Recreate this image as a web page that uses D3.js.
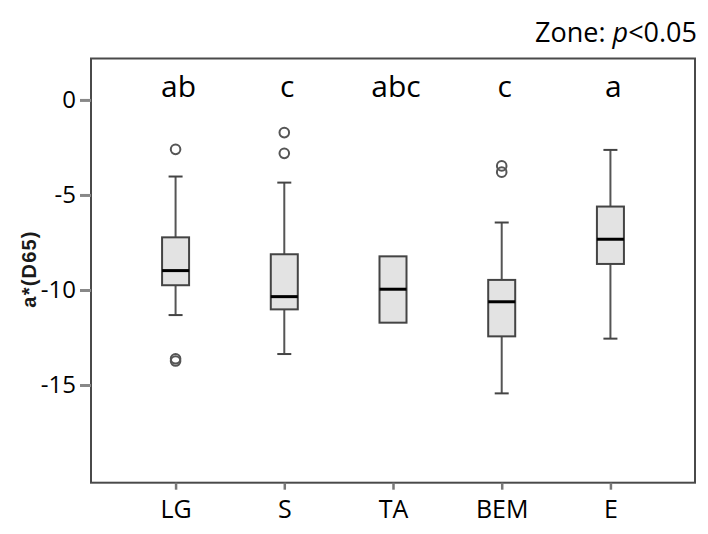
<!DOCTYPE html>
<html>
<head>
<meta charset="utf-8">
<script src="https://cdn.jsdelivr.net/npm/d3@7/dist/d3.min.js"></script>
<style>
  html, body { margin: 0; padding: 0; background: #fff; }
  svg { display: block; }
</style>
</head>
<body>
<div id="chart"></div>
<script>
// ---- data ----
const categories = ["LG", "S", "TA", "BEM", "E"];
const letters = ["ab", "c", "abc", "c", "a"];
const whiskerLow  = [-11.32, -13.37, -11.72, -15.44, -12.56];
const q1          = [-9.75, -11.02, -11.72, -12.44, -8.63];
const medians     = [-8.98, -10.35, -9.96, -10.62, -7.33];
const q3          = [-7.23, -8.12, -8.23, -9.47, -5.61];
const whiskerHigh = [-4.03, -4.35, -8.23, -6.45, -2.63];
const outliers    = [[-2.6, -13.62, -13.74], [-1.72, -2.81], [], [-3.47, -3.8], []];
const yTicks = [0, -5, -10, -15];
const yDomain = [-20.14, 2.18];
const yTitle = "a*(D65)";

// ---- layout ----
const W = 708, H = 534;
const mLeft = 91, mRight = 695, mTop = 58.5, mBottom = 482.7;

const svg = d3.select("#chart").append("svg")
  .attr("width", W).attr("height", H);

const x = d3.scalePoint().domain(categories).range([mLeft, mRight]).padding(0.778);
const y = d3.scaleLinear().domain(yDomain).range([mBottom, mTop]);

const boxW = 27, capW = 14;
const font = "'Open Sans', 'Noto Sans', sans-serif";

// frame
svg.append("rect")
  .attr("x", mLeft).attr("y", mTop)
  .attr("width", mRight - mLeft).attr("height", mBottom - mTop)
  .attr("fill", "none").attr("stroke", "#4a4a4a").attr("stroke-width", 2);

// y axis
const yAxis = d3.axisLeft(y).tickValues(yTicks).tickSize(11).tickPadding(4)
  .tickFormat(d => String(d));
const gy = svg.append("g").attr("transform", `translate(${mLeft},0)`).call(yAxis);
gy.select(".domain").remove();
gy.selectAll(".tick line").attr("stroke", "#888").attr("stroke-width", 3);
gy.selectAll(".tick text").attr("font-family", font).attr("font-size", 24)
  .attr("fill", "#000").attr("x", -15);

// x axis
const xAxis = d3.axisBottom(x).tickSize(7).tickPadding(10);
const gx = svg.append("g").attr("transform", `translate(0,${mBottom})`).call(xAxis);
gx.select(".domain").remove();
gx.selectAll(".tick line").attr("stroke", "#777").attr("stroke-width", 2.5);
gx.selectAll(".tick text").attr("font-family", font).attr("font-size", 25)
  .attr("fill", "#000").attr("dy", "0.71em").attr("y", 18);

// boxes
const data = categories.map((c, i) => ({
  c, lo: whiskerLow[i], q1: q1[i], med: medians[i], q3: q3[i], hi: whiskerHigh[i],
  out: outliers[i], letter: letters[i]
}));

const g = svg.append("g");
data.forEach(d => {
  const cx = x(d.c);
  if (d.hi > d.q3) {
    g.append("line").attr("x1", cx).attr("x2", cx).attr("y1", y(d.q3)).attr("y2", y(d.hi))
      .attr("stroke", "#555").attr("stroke-width", 2);
    g.append("line").attr("x1", cx - capW / 2).attr("x2", cx + capW / 2)
      .attr("y1", y(d.hi)).attr("y2", y(d.hi)).attr("stroke", "#444").attr("stroke-width", 2);
  }
  if (d.lo < d.q1) {
    g.append("line").attr("x1", cx).attr("x2", cx).attr("y1", y(d.q1)).attr("y2", y(d.lo))
      .attr("stroke", "#555").attr("stroke-width", 2);
    g.append("line").attr("x1", cx - capW / 2).attr("x2", cx + capW / 2)
      .attr("y1", y(d.lo)).attr("y2", y(d.lo)).attr("stroke", "#444").attr("stroke-width", 2);
  }
  g.append("rect").attr("x", cx - boxW / 2).attr("y", y(d.q3))
    .attr("width", boxW).attr("height", y(d.q1) - y(d.q3))
    .attr("fill", "#e3e3e3").attr("stroke", "#444").attr("stroke-width", 2);
  g.append("line").attr("x1", cx - boxW / 2).attr("x2", cx + boxW / 2)
    .attr("y1", y(d.med)).attr("y2", y(d.med)).attr("stroke", "#000").attr("stroke-width", 3);
  d.out.forEach(v => {
    g.append("circle").attr("cx", cx).attr("cy", y(v)).attr("r", 4.8)
      .attr("fill", "none").attr("stroke", "#555").attr("stroke-width", 2);
  });
  svg.append("text").attr("x", cx + 3).attr("y", 97)
    .attr("text-anchor", "middle").attr("font-family", font).attr("font-size", 30)
    .attr("fill", "#000").text(d.letter);
});

// y title
svg.append("text")
  .attr("transform", `translate(36,269) rotate(-90)`)
  .attr("text-anchor", "middle")
  .attr("font-family", "'Liberation Sans', Arial, sans-serif")
  .attr("font-weight", "bold").attr("font-size", 20).attr("letter-spacing", 1.2)
  .attr("fill", "#1a1a1a").text(yTitle);

// top-right title
const t = svg.append("text").attr("x", 697).attr("y", 42).attr("text-anchor", "end")
  .attr("font-family", font).attr("font-size", 27).attr("fill", "#000");
t.append("tspan").text("Zone: ");
t.append("tspan").attr("font-style", "italic").text("p");
t.append("tspan").text("<0.05");
</script>
</body>
</html>
